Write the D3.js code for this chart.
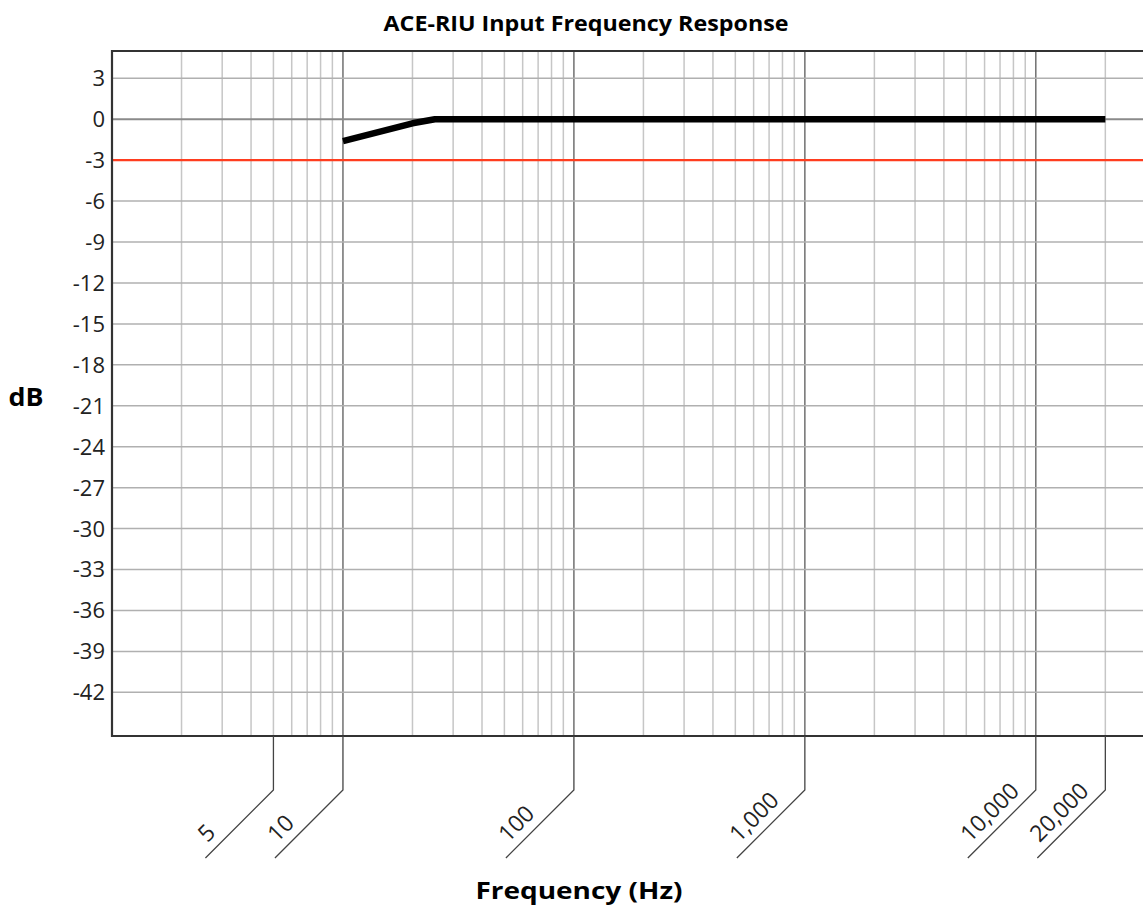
<!DOCTYPE html>
<html>
<head>
<meta charset="utf-8">
<script src="https://cdn.jsdelivr.net/npm/d3@7"></script>
<style>
  html, body { margin: 0; padding: 0; background: #fff; overflow: hidden; }
  svg { display: block; font-family: "Open Sans", "Noto Sans", sans-serif; }
</style>
</head>
<body>
<div id="chart"></div>
<script>
// Chart data
var freqs = [10, 20, 25, 20000];          // Hz
var gains = [-1.6, -0.3, 0, 0];           // dB
var yTicks = d3.range(3, -43, -3);        // 3 .. -42
var xLabelTicks = [5, 10, 100, 1000, 10000, 20000];
var halfPowerDb = -3;

// Dimensions
var width = 1143, height = 911;
var plot = {left: 112, top: 51, right: 1146, bottom: 736};

var svg = d3.select("div#chart").append("svg")
	.attr("width", width)
	.attr("height", height);

// Scales
var x = d3.scaleLog()
	.domain([1, 30000])
	.range([plot.left, plot.right]);
var y = d3.scaleLinear()
	.domain([5, -45.2])
	.range([plot.top, plot.bottom]);

// Vertical grid: 1..9 per decade
var gridX = [];
[1, 10, 100, 1000, 10000].forEach(function(d) {
	for (var m = 1; m <= 9; m++) {
		if (d * m > 1 && d * m < 30000) gridX.push(d * m);
	}
});
var isDecade = function(v) { return Math.abs(Math.log10(v) % 1) < 1e-9; };

svg.append("g")
	.selectAll("line")
	.data(gridX)
	.enter().append("line")
	.attr("x1", d => x(d)).attr("x2", d => x(d))
	.attr("y1", plot.top).attr("y2", plot.bottom)
	.attr("stroke", d => isDecade(d) ? "#707070" : "#c6c6c6")
	.attr("stroke-width", 1.5);

// Horizontal grid
svg.append("g")
	.selectAll("line")
	.data(yTicks)
	.enter().append("line")
	.attr("x1", plot.left).attr("x2", width)
	.attr("y1", d => y(d)).attr("y2", d => y(d))
	.attr("stroke", d => d === 0 ? "#8a8a8a" : "#b0b0b0")
	.attr("stroke-width", d => d === 0 ? 2 : 1.5);

// -3 dB reference
svg.append("line")
	.attr("x1", plot.left).attr("x2", width)
	.attr("y1", y(halfPowerDb)).attr("y2", y(halfPowerDb))
	.attr("stroke", "#ff3d1f")
	.attr("stroke-width", 2.4);

// Response curve
var line = d3.line()
	.x(d => x(d[0]))
	.y(d => y(d[1]));

svg.append("path")
	.datum(d3.zip(freqs, gains))
	.attr("fill", "none")
	.attr("stroke", "#000")
	.attr("stroke-width", 6.5)
	.attr("stroke-linejoin", "round")
	.attr("d", line);

// Plot frame (left, top, bottom)
svg.append("path")
	.attr("d", "M" + width + "," + plot.top + "H" + plot.left + "V" + plot.bottom + "H" + width)
	.attr("fill", "none")
	.attr("stroke", "#333")
	.attr("stroke-width", 2.2);

// Y tick labels
svg.append("g")
	.selectAll("text")
	.data(yTicks)
	.enter().append("text")
	.attr("x", plot.left - 7)
	.attr("y", d => y(d))
	.attr("dy", "0.36em")
	.attr("text-anchor", "end")
	.attr("font-size", 22)
	.attr("fill", "#222")
	.text(d => d);

// X tick labels with leader lines
var fmt = d3.format(",");
var leaders = svg.append("g")
	.selectAll("g")
	.data(xLabelTicks)
	.enter().append("g");

leaders.append("path")
	.attr("d", d => "M" + x(d) + "," + plot.bottom + "V790L" + (x(d) - 68) + ",858")
	.attr("fill", "none")
	.attr("stroke", "#444")
	.attr("stroke-width", 1.3);

leaders.append("text")
	.attr("transform", d => "translate(" + (x(d) - 68) + ",858) rotate(-45)")
	.attr("x", 12)
	.attr("y", -9)
	.attr("font-size", 23)
	.attr("fill", "#222")
	.text(d => fmt(d));

// Titles
svg.append("text")
	.attr("x", 586).attr("y", 31)
	.attr("text-anchor", "middle")
	.attr("font-size", 22)
	.attr("font-weight", 700)
	.attr("textLength", 405)
	.attr("lengthAdjust", "spacingAndGlyphs")
	.text("ACE-RIU Input Frequency Response");

svg.append("text")
	.attr("x", 26).attr("y", 406)
	.attr("text-anchor", "middle")
	.attr("font-size", 25)
	.attr("font-weight", 700)
	.attr("textLength", 35)
	.attr("lengthAdjust", "spacingAndGlyphs")
	.text("dB");

svg.append("text")
	.attr("x", 579).attr("y", 899)
	.attr("text-anchor", "middle")
	.attr("font-size", 24)
	.attr("font-weight", 700)
	.attr("textLength", 207)
	.attr("lengthAdjust", "spacingAndGlyphs")
	.text("Frequency (Hz)");
</script>
</body>
</html>
